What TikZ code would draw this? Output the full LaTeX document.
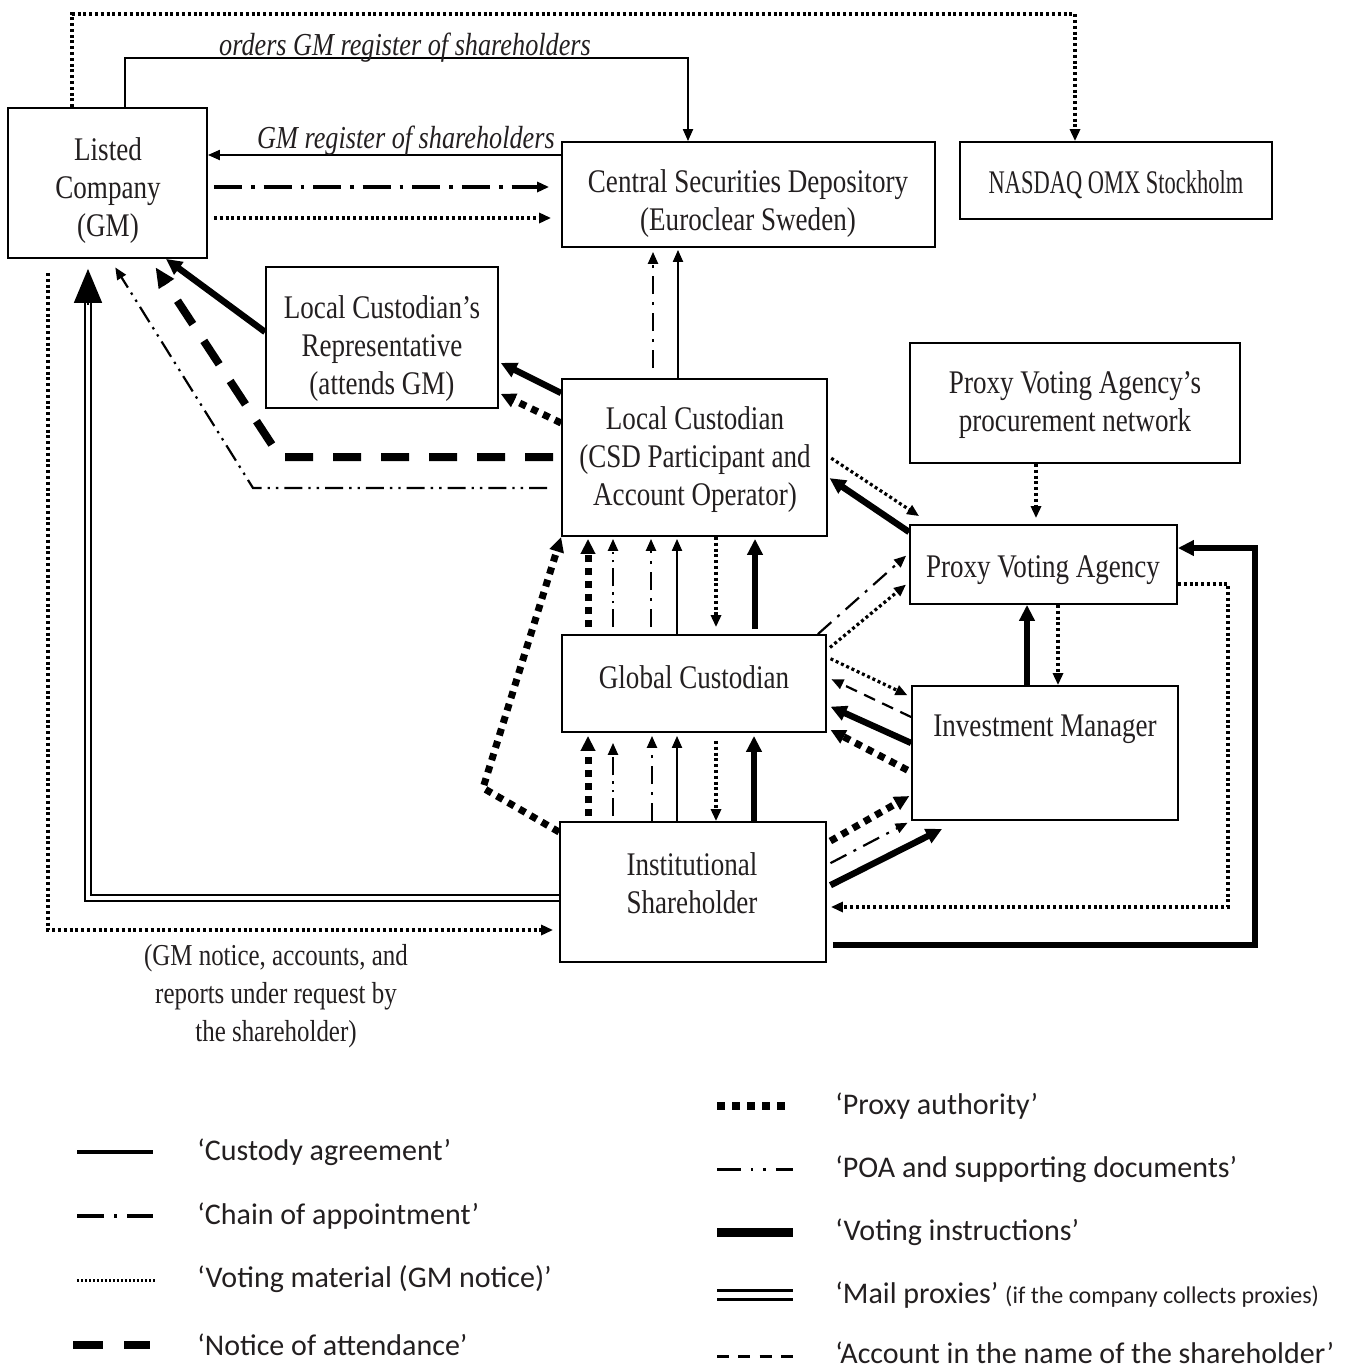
\documentclass[tikz,border=0pt]{standalone}
\usepackage{fontspec}
\setmainfont{Liberation Serif}[FakeStretch=0.82]
\newfontfamily\legfont{Carlito}
\usetikzlibrary{arrows.meta,fit,calc}
\definecolor{ink}{HTML}{231F20}
\begin{document}
\begin{tikzpicture}[x=0.5pt,y=-0.5pt,
  box/.style={draw, line width=0.9pt, inner sep=0pt},
  txt/.style={align=center, text=ink, inner sep=0pt, font=\fontsize{16.5}{19}\selectfont},
  lab/.style={text=ink, inner sep=0pt, font=\fontsize{16}{19}\selectfont\itshape},
  legtxt/.style={anchor=west, text=ink, inner sep=0pt, font={\legfont\fontsize{15}{18}\selectfont}},
  % line kinds
  custody/.style={line width=1pt},
  chain/.style={line width=1.1pt, dash pattern=on 9pt off 4pt on 1.5pt off 4pt},
  chainbold/.style={line width=2pt, dash pattern=on 14pt off 4.5pt on 1.8pt off 4.5pt},
  votemat/.style={line width=1.6pt, dash pattern=on 1.5pt off 1.4pt},
  notice/.style={line width=4pt, dash pattern=on 14pt off 10pt},
  proxy/.style={line width=3.5pt, dash pattern=on 3.5pt off 3pt},
  poa/.style={line width=1.1pt, dash pattern=on 9pt off 3pt on 1.2pt off 3pt on 1.2pt off 3pt},
  vinstr/.style={line width=3.2pt},
  mail/.style={double, line width=1pt, double distance=2.4pt},
  account/.style={line width=1.1pt, dash pattern=on 6pt off 4pt},
  % arrow heads
  tipS/.style={-{Triangle[length=6pt,width=5pt]}},
  tipM/.style={-{Triangle[length=7.5pt,width=7pt]}},
  tipL/.style={-{Triangle[length=8pt,width=7.5pt]}},
  tipXL/.style={-{Triangle[length=10pt,width=8.5pt]}},
]
\useasboundingbox[fill=white] (0,0) rectangle (1359,1371);

% ---------- boxes ----------
\node[box, fit={(8,108) (207,258)}] (lco) {};
\node[txt] (lcotext) at (108,191) {Listed\\Company\\(GM)};
\node[box, fit={(562,142) (935,247)}] (csd) {};
\node[txt] (csdtext) at (748,204) {Central Securities Depository\\(Euroclear Sweden)};
\node[box, fit={(960,142) (1272,219)}] (nasdaq) {};
\node[txt] (nasdaqtext) at (1116,185) {\scalebox{0.83}[1]{NASDAQ OMX Stockholm}};
\node[box, fit={(266,267) (498,408)}] (lcr) {};
\node[txt] (lcrtext) at (382,349) {Local Custodian’s\\Representative\\(attends GM)};
\node[box, fit={(562,379) (827,536)}] (lcust) {};
\node[txt] (lcusttext) at (695,460) {Local Custodian\\(CSD Participant and\\Account Operator)};
\node[box, fit={(910,343) (1240,463)}] (pvnet) {};
\node[txt] (pvnettext) at (1075,405) {Proxy Voting Agency’s\\procurement network};
\node[box, fit={(910,525) (1177,604)}] (pva) {};
\node[txt] (pvatext) at (1043,570) {Proxy Voting Agency};
\node[box, fit={(562,635) (826,732)}] (gc) {};
\node[txt] (gctext) at (694,677) {Global Custodian};
\node[box, fit={(912,686) (1178,820)}] (im) {};
\node[txt] (imtext) at (1045,729) {Investment Manager};
\node[box, fit={(560,822) (826,962)}] (ish) {};
\node[txt] (ishtext) at (692,883) {Institutional\\Shareholder};

% ---------- top: company, CSD, exchange ----------
\draw[votemat, tipS] (lco.north -| 72,0) |- (1075,14) -- (nasdaq.north -| 1075,0);
\draw[custody, tipS] (lco.north -| 125,0) |- (688,58) -- (csd.north -| 688,0);
\node[lab, anchor=base] (ordlab) at (405,55) {orders GM register of shareholders};
\draw[custody, tipS] (csd.west |- 0,155) -- (lco.east |- 0,155);
\node[lab, anchor=base] (reglab) at (406,148) {GM register of shareholders};
\draw[chainbold, tipS, shorten <=3pt, shorten >=6pt] (lco.east |- 0,187) -- (csd.west |- 0,187);
\draw[votemat, tipS, shorten <=3pt, shorten >=5pt] (lco.east |- 0,218) -- (csd.west |- 0,218);

\draw[chain, tipS, shorten <=5pt, shorten >=2pt] (lcust.north -| 653,0) -- (csd.south -| 653,0);
\draw[custody, tipS, shorten >=1pt] (lcust.north -| 678,0) -- (csd.south -| 678,0);

% ---------- representative and the company ----------
\draw[vinstr, tipL] (lcr.west |- 0,332) -- (lco.south -| 166,0);
\draw[vinstr, tipL, shorten >=1pt] (lcust.west |- 0,393) -- (lcr.east |- 0,362);
\draw[proxy, tipM, shorten >=1pt] (lcust.west |- 0,423) -- (lcr.east |- 0,393);
\draw[notice, tipXL, shorten <=4pt, shorten >=5pt] (lcust.west |- 0,457) -- (280,457) -- (lco.south -| 150,0);
\draw[poa, tipS, shorten <=7pt, shorten >=5pt] (lcust.west |- 0,488) -- (253,488) -- (lco.south -| 110,0);

% mail proxies from the shareholder to the company
\draw[mail, shorten >=22pt] (ish.west |- 0,898) -| (lco.south -| 88,0);
\draw[line width=0.8pt, -{Triangle[length=17pt,width=14pt]}, shorten >=5pt]
  ($(lco.south -| 88,0)+(0,46)$) -- (lco.south -| 88,0);

% GM notice sent directly to the shareholder
\draw[votemat, tipS, shorten <=7pt, shorten >=3pt] (lco.south -| 48,0) |- (ish.west |- 0,930);
\node[txt, font=\fontsize{15.2}{19}\selectfont] (notelab) at (276,996) {(GM notice, accounts, and\\reports under request by\\the shareholder)};

% ---------- local custodian <-> global custodian ----------
\draw[proxy, tipM, shorten <=3.5pt, shorten >=1pt] (gc.north -| 588,0) -- (lcust.south -| 588,0);
\draw[poa, tipS, shorten <=3.5pt, shorten >=1pt] (gc.north -| 613,0) -- (lcust.south -| 613,0);
\draw[chain, tipS, shorten <=3.5pt, shorten >=1pt] (gc.north -| 651,0) -- (lcust.south -| 651,0);
\draw[custody, tipS, shorten >=1pt] (gc.north -| 677,0) -- (lcust.south -| 677,0);
\draw[votemat, tipS, shorten >=3.5pt] (lcust.south -| 716,0) -- (gc.north -| 716,0);
\draw[vinstr, tipL, shorten <=2.5pt, shorten >=1pt] (gc.north -| 755,0) -- (lcust.south -| 755,0);

% ---------- global custodian <-> shareholder ----------
\draw[proxy, tipM, shorten <=2.5pt, shorten >=1.5pt] (ish.north -| 588,0) -- (gc.south -| 588,0);
\draw[poa, tipS, shorten <=2.5pt, shorten >=5pt] (ish.north -| 613,0) -- (gc.south -| 613,0);
\draw[chain, tipS, shorten >=1.5pt] (ish.north -| 652,0) -- (gc.south -| 652,0);
\draw[custody, tipS, shorten >=1.5pt] (ish.north -| 677,0) -- (gc.south -| 677,0);
\draw[votemat, tipS, shorten <=4pt] (gc.south -| 716,0) -- (ish.north -| 716,0);
\draw[vinstr, tipL, shorten >=1.5pt] (ish.north -| 754,0) -- (gc.south -| 754,0);

\draw[proxy, tipM] (ish.west |- 0,832) -- (483,788) -- (lcust.south west);

% ---------- proxy voting agency ----------
\draw[votemat, tipS, shorten <=2pt] (lcust.east |- 0,456) -- ($(pva.north west)+(10,-8)$);
\draw[vinstr, tipL, shorten >=1pt] (pva.west |- 0,532) -- (lcust.east |- 0,477);
\draw[votemat, tipS, shorten >=3pt] (pvnet.south -| 1036,0) -- (pva.north -| 1036,0);
\draw[chain, tipS, shorten >=2pt] ($(gc.north east)+(-9,0)$) -- (pva.west |- 0,553);
\draw[votemat, tipS, shorten <=2pt, shorten >=2pt] (gc.east |- 0,650) -- (pva.west |- 0,582);

% ---------- investment manager ----------
\draw[votemat, tipS, shorten <=2pt, shorten >=2pt] (gc.east |- 0,657) -- (im.west |- 0,697);
\draw[account, tipS, shorten >=2.5pt] (im.west |- 0,717) -- (gc.east |- 0,677);
\draw[vinstr, tipL, shorten >=2pt] (im.west |- 0,743) -- (gc.east |- 0,705);
\draw[proxy, tipM, shorten <=2pt, shorten >=2pt] (im.west |- 0,772) -- (gc.east |- 0,728);

\draw[proxy, tipM, shorten <=2pt, shorten >=1pt] (ish.east |- 0,843) -- (im.west |- 0,795);
\draw[chain, tipS, shorten <=2pt, shorten >=2pt] (ish.east |- 0,865) -- (im.south west);
\draw[vinstr, tipL, shorten <=2pt] (ish.east |- 0,887) -- ($(im.south west)+(31,8)$);

\draw[vinstr, tipL] (im.north -| 1027,0) -- (pva.south -| 1027,0);
\draw[votemat, tipS] (pva.south -| 1058,0) -- (im.north -| 1058,0);

\draw[votemat, tipS, shorten >=2pt] (pva.east |- 0,584) -| (1228,907) -- (ish.east |- 0,907);
\draw[vinstr, tipL, shorten <=3pt] (ish.east |- 0,945) -| (1255,548) -- (pva.east |- 0,548);

% ---------- legend ----------
\draw[line width=1.6pt] (77,1152) -- (153,1152);
\node[legtxt] (leg1) at (197,1152) {‘Custody agreement’};
\draw[line width=1.6pt, dash pattern=on 13.5pt off 5pt on 1.5pt off 5pt on 13pt off 5pt] (77,1216) -- (153,1216);
\node[legtxt] (leg2) at (197,1216) {‘Chain of appointment’};
\draw[line width=1.5pt, dash pattern=on 1pt off 1pt] (77,1280) -- (155,1280);
\node[legtxt] (leg3) at (197,1279) {‘Voting material (GM notice)’};
\draw[line width=4pt, dash pattern=on 15pt off 10.5pt] (73,1345) -- (150,1345);
\node[legtxt] (leg4) at (197,1345) {‘Notice of attendance’};

\draw[line width=4pt, dash pattern=on 4pt off 3.5pt] (717,1106) -- (785,1106);
\node[legtxt] (leg5) at (835,1106) {‘Proxy authority’};
\draw[line width=1.5pt, dash pattern=on 12pt off 5pt on 1.2pt off 5pt on 1.2pt off 5pt on 8.6pt off 5pt] (717,1169) -- (793,1169);
\node[legtxt] (leg6) at (835,1169) {‘POA and supporting documents’};
\draw[line width=4.5pt] (717,1232) -- (793,1232);
\node[legtxt] (leg7) at (835,1232) {‘Voting instructions’};
\draw[double, line width=1.4pt, double distance=3.4pt] (717,1295) -- (793,1295);
\node[legtxt] (leg8) at (835,1295) {‘Mail proxies’ {\fontsize{12}{14}\selectfont (if the company collects proxies)}};
\draw[line width=1.5pt, dash pattern=on 6pt off 4.67pt] (717,1356) -- (793,1356);
\node[legtxt] (leg9) at (835,1353) {‘Account in the name of the shareholder’};
\end{tikzpicture}
\end{document}
